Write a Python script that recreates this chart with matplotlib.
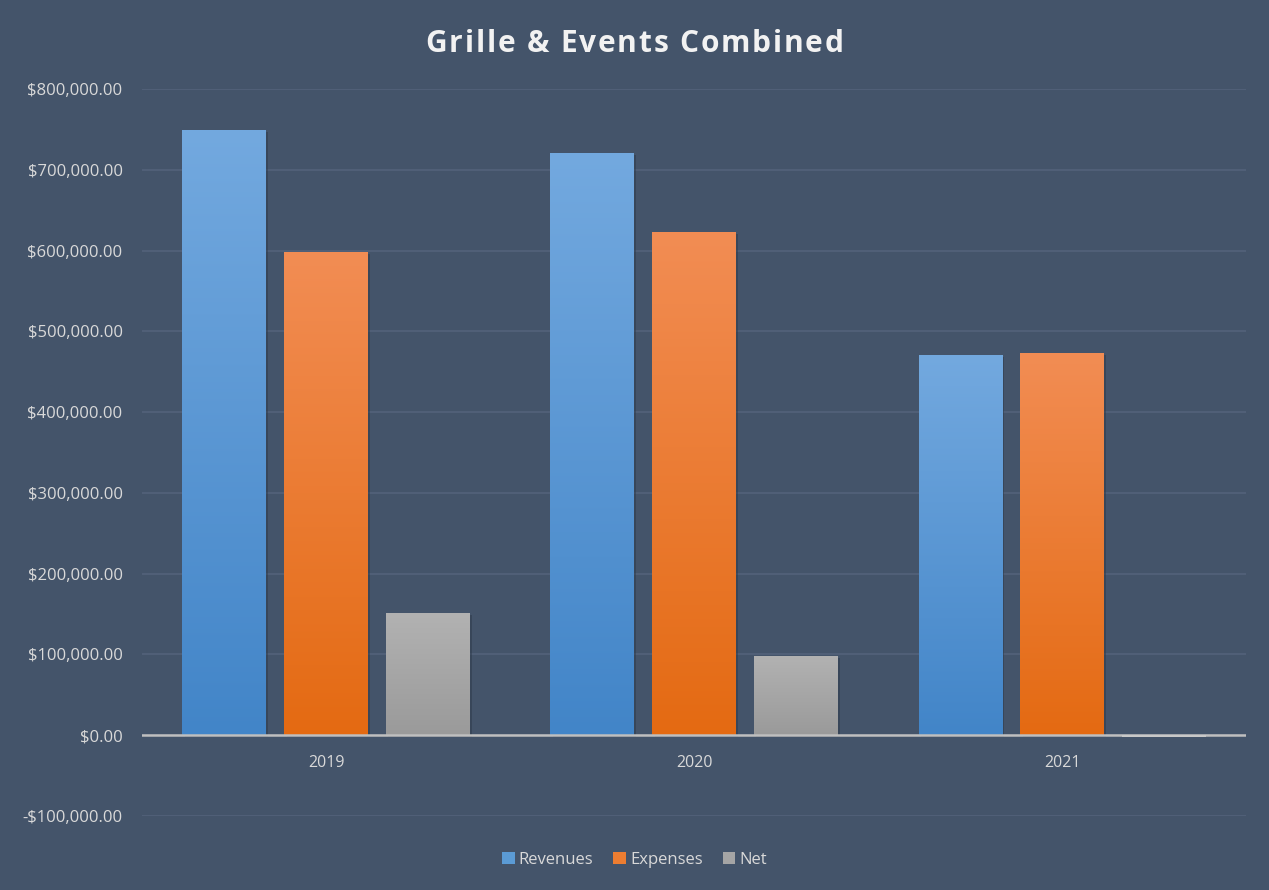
import numpy as np
import matplotlib
matplotlib.use("Agg")
import matplotlib.pyplot as plt
from matplotlib.ticker import FuncFormatter
from matplotlib.patches import Patch
from matplotlib.colors import to_rgb
import matplotlib.patheffects as pe

years = ["2019", "2020", "2021"]
series = ["Revenues", "Expenses", "Net"]
revenues = [749000, 721000, 470500]
expenses = [598000, 623000, 473000]
net = [151000, 98000, -2500]
title = "Grille & Events Combined"

bg = "#44546A"
top_colors = ["#73A9DF", "#F28D54", "#B2B2B2"]
bot_colors = ["#4285C8", "#E46A12", "#9A9A9A"]
legend_colors = ["#5B9BD5", "#ED7D31", "#A5A5A5"]
txt = "#D9D9D9"

fig = plt.figure(figsize=(12.69, 8.90), dpi=100, facecolor=bg)
ax = fig.add_axes([0.1119, 0.0831, 0.8700, 0.8169], facecolor=bg)

x = np.arange(len(years))
width = 0.226
step = 0.277
values = [revenues, expenses, net]

for i, (vals, tc, bc) in enumerate(zip(values, top_colors, bot_colors)):
    bars = ax.bar(x + (i - 1) * step, vals, width=width, color=bc, zorder=3,
                  linewidth=0)
    t = np.array(to_rgb(tc)); b = np.array(to_rgb(bc))
    for bar in bars:
        x0, y0 = bar.get_x(), bar.get_y()
        w, h = bar.get_width(), bar.get_height()
        ylo, yhi = min(y0, y0 + h), max(y0, y0 + h)
        if h > 0:
            bar.set_path_effects([pe.SimplePatchShadow(offset=(1.5, -1.5), shadow_rgbFace="#2E3A4A", alpha=0.5), pe.Normal()])
            grad = np.linspace(0, 1, 256)[:, None]
            img = t[None, None, :] * (1 - grad[..., None]) + b[None, None, :] * grad[..., None]
            im = ax.imshow(img, extent=[x0, x0 + w, ylo, yhi], aspect="auto",
                           origin="upper", zorder=4)
            im.set_clip_path(bar)
        else:
            bar.set_facecolor("#C8C8C8")
            bar.set_zorder(6)

ax.set_xlim(-0.5, 2.5)
ax.set_ylim(-100000, 800000)
ax.set_yticks(np.arange(-100000, 800001, 100000))
ax.yaxis.set_major_formatter(FuncFormatter(lambda v, p: ("-$" if v < 0 else "$") + f"{abs(v):,.2f}"))
ax.set_xticks(x)
ax.set_xticklabels(years)
ax.spines["bottom"].set_position(("data", 0))
ax.grid(axis="y", color="#53627A", linewidth=1.2, zorder=0)
ax.axhline(0, color="#BFBFBF", linewidth=1.8, zorder=5)
for s in ax.spines.values():
    s.set_visible(False)
ax.tick_params(axis="both", length=0, colors=txt)
ax.tick_params(axis="y", pad=14, labelsize=12)
ax.tick_params(axis="x", pad=14, labelsize=11.5)
for lab in ax.get_xticklabels() + ax.get_yticklabels():
    lab.set_fontfamily("Open Sans")
    lab.set_color(txt)

# Title with letter spacing
fig.canvas.draw()
renderer = fig.canvas.get_renderer()
tprops = dict(color="#F2F2F2", fontsize=21.5, fontweight="bold", fontfamily="Open Sans",
              va="center", ha="left")
track = 1.8
probe = fig.text(0, 0, title, **tprops)
total_w = probe.get_window_extent(renderer).width + track * (len(title) - 1)
probe.remove()
start = 1269 / 2 - total_w / 2
q = fig.text(0, 0, "|", **tprops)
qw = q.get_window_extent(renderer).width
q.remove()
for k, ch in enumerate(title):
    if k == 0:
        pw = 0
    else:
        p = fig.text(0, 0, title[:k] + "|", **tprops)
        pw = p.get_window_extent(renderer).width - qw
        p.remove()
    fig.text((start + pw + k * track) / 1269, 0.951, ch, **tprops)

handles = [Patch(facecolor=c, edgecolor="none") for c in legend_colors]
leg = fig.legend(handles, series, loc="center", bbox_to_anchor=(0.5, 0.034), ncol=3,
                 frameon=False, handlelength=0.75, handleheight=0.75, handletextpad=0.25,
                 columnspacing=1.2, prop={"family": "Open Sans", "size": 12})
for t in leg.get_texts():
    t.set_color(txt)

fig.savefig("out.png", dpi=100, facecolor=bg)
